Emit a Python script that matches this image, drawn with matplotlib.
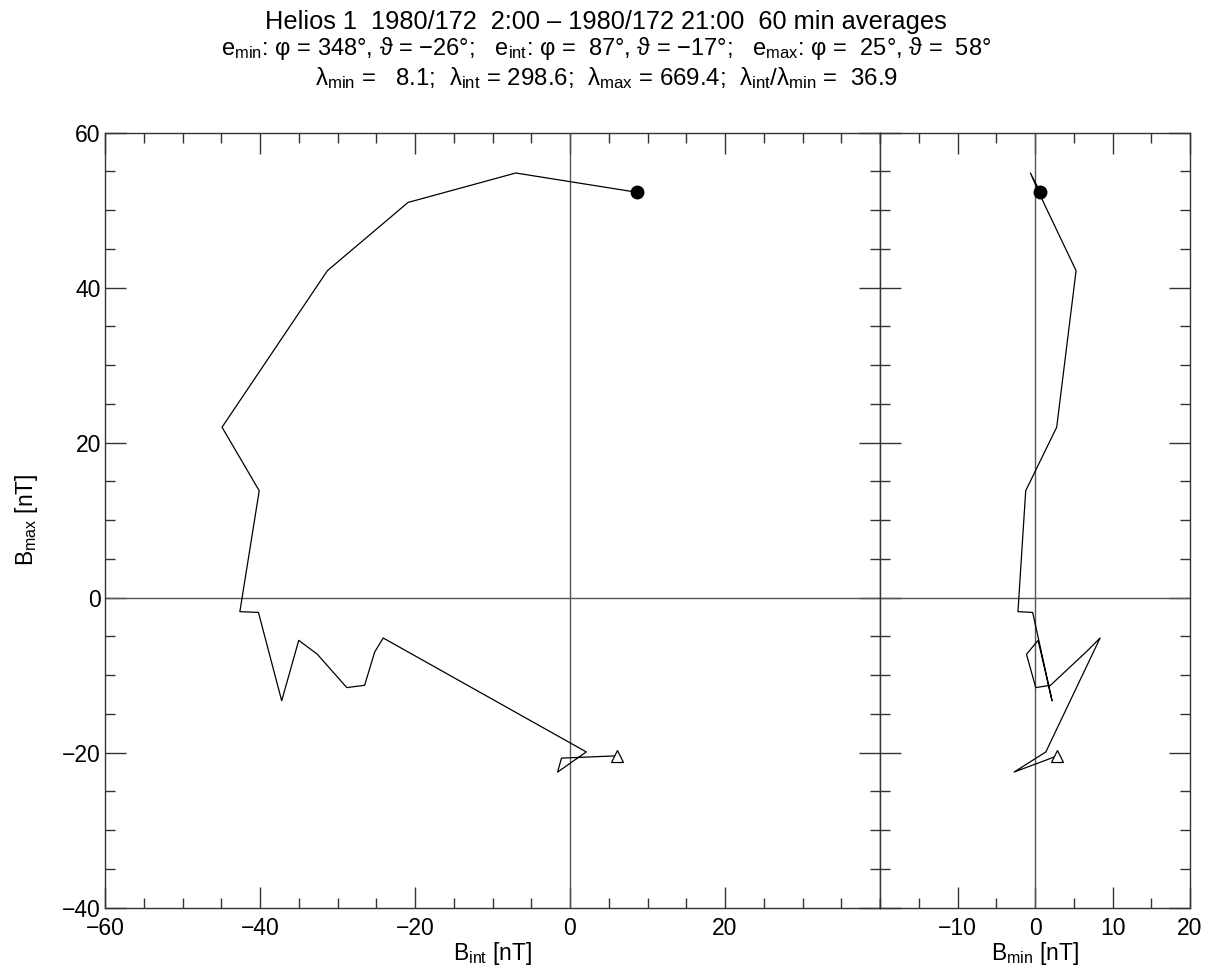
import matplotlib
matplotlib.use('Agg')
import matplotlib.pyplot as plt
from matplotlib.ticker import MultipleLocator

plt.rcParams['font.family'] = ['Liberation Sans', 'DejaVu Sans']
plt.rcParams['mathtext.fontset'] = 'custom'
plt.rcParams['mathtext.rm'] = 'Liberation Sans'
plt.rcParams['mathtext.it'] = 'Liberation Sans:italic'
plt.rcParams['mathtext.default'] = 'regular'

# hourly averages in minimum-variance frame (nT)
b_int = [8.7, -7.0, -20.9, -31.3, -44.9, -40.1, -42.6, -40.2, -37.2, -35.0,
         -32.6, -28.8, -26.5, -25.2, -24.1, 2.1, -1.6, -1.1, 6.1]
b_min = [0.7, -0.6, 1.1, 5.3, 2.8, -1.2, -2.2, -0.3, 2.2, 0.4,
         -1.1, 0.1, 2.0, 6.6, 8.4, 1.4, -2.7, 2.1, 2.8]
b_max = [52.3, 54.8, 51.0, 42.2, 22.0, 13.8, -1.8, -1.9, -13.3, -5.5,
         -7.3, -11.6, -11.3, -7.0, -5.2, -19.9, -22.5, -20.7, -20.4]

title = 'Helios 1  1980/172  2:00 \u2013 1980/172 21:00  60 min averages'
line2 = (r'e$_{min}$: φ = 348°, ϑ = −26°;   e$_{int}$: φ =  87°, ϑ = −17°;   '
         r'e$_{max}$: φ =  25°, ϑ =  58°')
line3 = (r'λ$_{min}$ =   8.1;  λ$_{int}$ = 298.6;  λ$_{max}$ = 669.4;  '
         r'λ$_{int}$/λ$_{min}$ =  36.9')

W, H = 1212, 980
fig = plt.figure(figsize=(W / 100, H / 100), dpi=100)
ax1 = fig.add_axes([105 / W, (H - 907.7) / H, 775 / W, 775 / H])
ax2 = fig.add_axes([880 / W, (H - 907.7) / H, 310 / W, 775 / H])

fig.text(606 / W, 1 - 22 / H, title, ha='center', va='center', fontsize=18.3)
fig.text(606 / W, 1 - 49 / H, line2, ha='center', va='center', fontsize=17)
fig.text(606 / W, 1 - 78 / H, line3, ha='center', va='center', fontsize=17.3)

for ax, xs, xlim, xt, lab in [(ax1, b_int, (-60, 40), [-60, -40, -20, 0, 20], r'B$_{int}$ [nT]'),
                              (ax2, b_min, (-20, 20), [-10, 0, 10, 20], r'B$_{min}$ [nT]')]:
    ax.axhline(0, color='#555555', lw=1)
    ax.axvline(0, color='#555555', lw=1)
    ax.plot(xs, b_max, color='black', lw=0.9)
    ax.plot(xs[0], b_max[0], 'o', color='black', ms=9)
    ax.plot(xs[-1], b_max[-1], '^', mfc='white', mec='black', ms=9, mew=0.9)
    ax.set_xlim(*xlim)
    ax.set_ylim(-40, 60)
    ax.set_xticks(xt)
    ax.xaxis.set_minor_locator(MultipleLocator(5))
    ax.yaxis.set_major_locator(MultipleLocator(20))
    ax.yaxis.set_minor_locator(MultipleLocator(5))
    ax.tick_params(which='both', direction='in', top=True, right=True,
                   labelsize=16.5, color='#333333')
    ax.tick_params(axis='x', pad=7)
    ax.tick_params(axis='y', pad=3)
    ax.tick_params(which='major', length=15, width=1)
    ax.tick_params(which='minor', length=7, width=1)
    ax.set_xlabel(lab, fontsize=16.5, labelpad=0)
    for s in ax.spines.values():
        s.set_color('#333333')
        s.set_linewidth(1)

ax1.set_ylabel(r'B$_{max}$ [nT]', fontsize=16.5, labelpad=16)
ax2.tick_params(labelleft=False)

plt.savefig('out.png', dpi=100)
